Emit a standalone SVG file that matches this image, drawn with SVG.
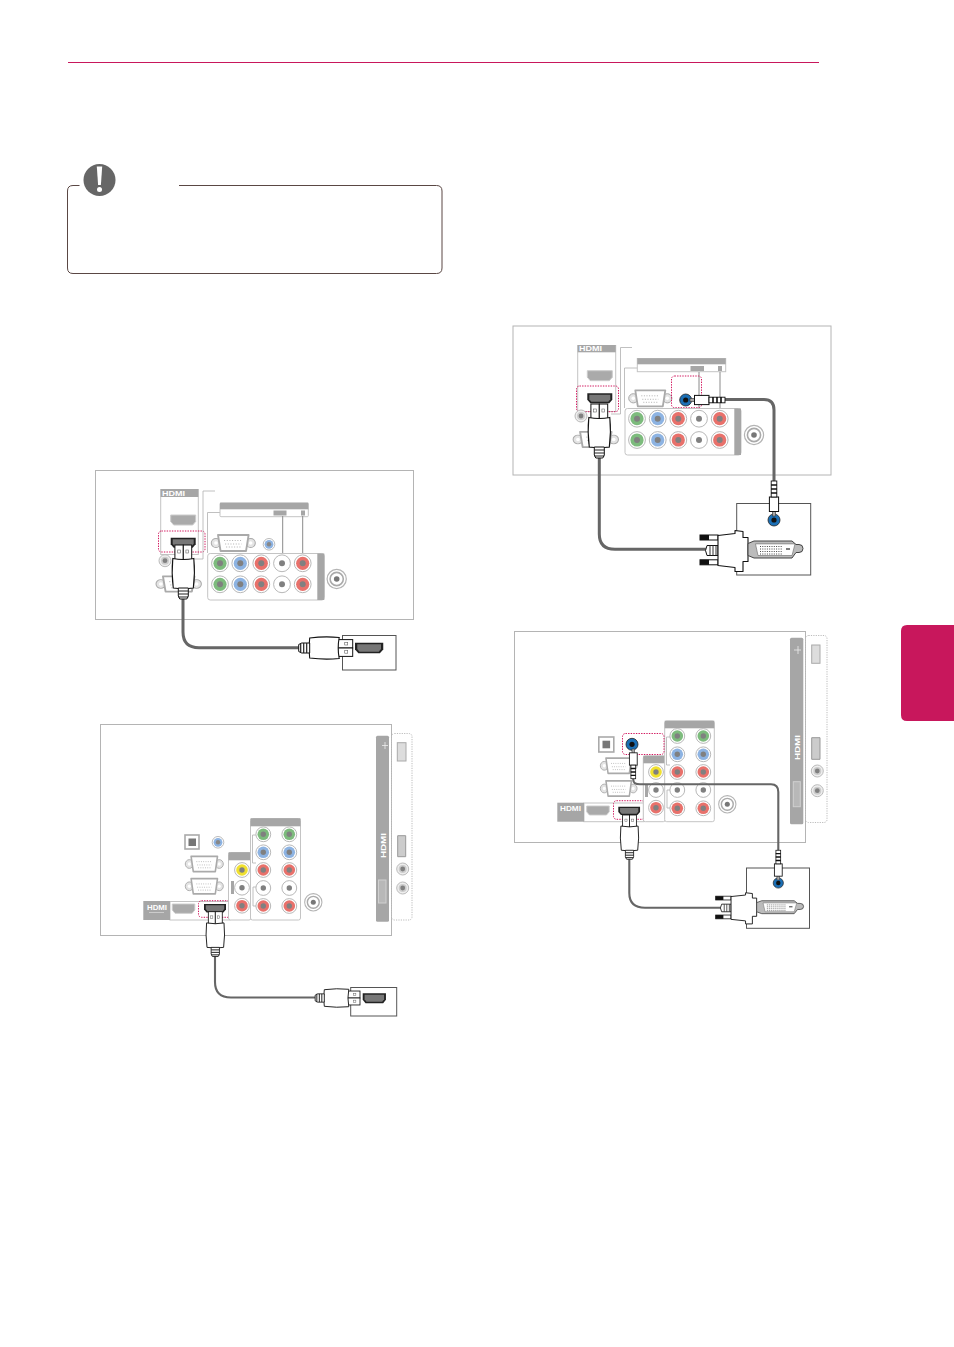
<svg xmlns="http://www.w3.org/2000/svg" xmlns:xlink="http://www.w3.org/1999/xlink" width="954" height="1347" viewBox="0 0 954 1347">
<style>
.frame{fill:#fff;stroke:#b4b4b4;stroke-width:1}
.dev{fill:#fff;stroke:#555;stroke-width:1}
.blk{fill:#fff;stroke:#c4c4c4;stroke-width:1}
.bar{fill:#a6a6a6}
.ln{fill:none;stroke:#b0b0b0;stroke-width:.8}
.ln2{fill:none;stroke:#8a8a8a;stroke-width:1}
.pink{fill:none;stroke:#d2185f;stroke-width:1;stroke-dasharray:1.4 1.2}
.dot{fill:none;stroke:#bcbcbc;stroke-width:1;stroke-dasharray:1.2 1.2}
.cable{fill:none;stroke:#666;stroke-width:3}
.thin{stroke-width:2.1}
.logo{font:bold 6.5px "Liberation Sans",sans-serif;fill:#fff}
.gr{color:#7dbb7d}.bl{color:#8db3e2}.rd{color:#e8716b}.wh{color:#fff}.ye{color:#f0e030}
</style>
<defs>
<g id="jk"><circle r="8.4" fill="#fff" stroke="#b8b8b8" stroke-width="1"/><circle r="6.6" fill="currentColor"/><circle r="3" fill="#808080"/></g>
<g id="jks"><circle r="7.4" fill="#fff" stroke="#b8b8b8" stroke-width="1"/><circle r="5.8" fill="currentColor"/><circle r="2.7" fill="#808080"/></g>
<g id="rf"><circle r="9.6" fill="#fff" stroke="#b4b4b4" stroke-width="1.2"/><circle r="6.6" fill="#fff" stroke="#aaa" stroke-width="1.6"/><circle r="2.8" fill="#777"/></g>
<g id="sj"><circle r="6" fill="#eee" stroke="#bbb"/><circle r="4" fill="#ccc"/><circle r="2.4" fill="#808080"/></g>
<g id="bj"><circle r="5.8" fill="#fff" stroke="#bbb"/><circle r="4.4" fill="#8db3e2"/><circle r="2.2" fill="#888"/></g>
<g id="dj"><circle r="6" fill="#1b6fb5" stroke="#222" stroke-width=".8"/><circle r="2.6" fill="#111"/></g>
<g id="vga"><circle cx="-17" r="4.6" fill="#e4e4e4" stroke="#aaa"/><circle cx="17" r="4.6" fill="#e4e4e4" stroke="#aaa"/><circle cx="-17" r="1.8" fill="#fff"/><circle cx="17" r="1.8" fill="#fff"/><path d="M-15,-8H15L12.5,8H-12.5Z" fill="#fff" stroke="#aaa" stroke-width="1.8" stroke-linejoin="round"/><path d="M-9,-2.5H9M-8,1H8M-7,4H7" stroke="#aaa" stroke-width=".9" stroke-dasharray="1 1.6" fill="none"/></g>
<path id="pl" d="M0,0H25V6.5L22,10H3L0,6.5Z" fill="#aaa" stroke="#ccc" stroke-width="1"/>
<g id="pd"><path d="M0,0H25V6.5L22,10H3L0,6.5Z" fill="#222"/><path d="M2,1.5H23V6L21,8.5H4L2,6Z" fill="#777"/></g>
<g id="hp">
<rect x="-8.4" y="0" width="8.4" height="15" fill="#fff" stroke="#111" stroke-width="1"/><rect x="0" y="0" width="8.4" height="15" fill="#fff" stroke="#111" stroke-width="1"/>
<rect x="-5.6" y="5" width="2.6" height="3" fill="none" stroke="#666" stroke-width=".6"/><rect x="2.6" y="5" width="2.6" height="3" fill="none" stroke="#666" stroke-width=".6"/>
<path d="M-10.5,13.5Q0,15.5 10.5,13.5Q12,28 10,43Q0,44.5 -10,43Q-12,28 -10.5,13.5Z" fill="#fff" stroke="#111" stroke-width="1.1"/>
<path d="M-5,43H5V51L3.5,54H-3.5L-5,51Z" fill="#fff" stroke="#111" stroke-width="1"/><path d="M-5,46H5M-5,49H5M-5,52H5" stroke="#222" stroke-width="1.2"/>
</g>
<g id="ap">
<rect x="-1.6" y="0" width="3.2" height="5" fill="#aaa" stroke="#333" stroke-width=".6"/>
<rect x="-4.6" y="4.5" width="9.2" height="14.5" fill="#fff" stroke="#111" stroke-width="1"/>
<rect x="-2.8" y="19" width="5.6" height="16" fill="#fff" stroke="#111" stroke-width=".9"/><path d="M-3,23H3M-3,27H3M-3,31H3" stroke="#111" stroke-width="1.6"/>
</g>
<g id="dvi">
<rect x="0" y="-14.5" width="18" height="5" fill="#fff" stroke="#111"/><rect x="0" y="-14.5" width="9" height="5" fill="#111"/>
<rect x="0" y="10.3" width="18" height="5" fill="#fff" stroke="#111"/><rect x="0" y="10.3" width="9" height="5" fill="#111"/>
<path d="M7,-4H18V6H7Q4,1 7,-4Z" fill="#fff" stroke="#111"/><path d="M10,-4V6M13,-4V6M16,-4V6" stroke="#333"/>
<path d="M18,-14L35,-16V-19L43,-18V-12H48V12H43V22L35,22V18L18,16Z" fill="#fff" stroke="#111" stroke-width="1.1" stroke-linejoin="round"/>
<path d="M48,-6L54,-8.5H92L96,-5H99A3.6,3.6 0 1 1 99,3H96L92,8.5H54L48,6Z" fill="#bbb" stroke="#444"/>
<path d="M55.5,-5.6H95L92,6H58Z" fill="#fff" stroke="#666" stroke-width=".6"/>
<path d="M60,-3H82M60,-.5H82M60,2H82M60,4.5H82" stroke="#333" stroke-width=".9" stroke-dasharray="1 1.3" fill="none"/><path d="M86,-.5H90" stroke="#222" stroke-width="1.2"/>
</g>
</defs>

<rect width="954" height="1347" fill="#fff"/>
<g id="page-header"><path d="M68,62.5H819" stroke="#c8175c" stroke-width="1" fill="none"/></g>
<g id="side-tab"><path d="M954,625H907Q901,625 901,631V715Q901,721 907,721H954Z" fill="#c8175c"/></g>

<g id="note">
<path d="M79.5,185.5H73Q67.5,185.5 67.5,191V268Q67.5,273.5 73,273.5H436.5Q442,273.5 442,268V191Q442,185.5 436.5,185.5H179" fill="none" stroke="#5a4744" stroke-width="1"/>
<circle cx="99.5" cy="180" r="16" fill="#666"/>
<path d="M96.8,166.5H102.2L100.9,185H98.1Z" fill="#fff"/><circle cx="99.5" cy="189.5" r="2.5" fill="#fff"/>
</g>

<g id="panel-a">
<rect class="frame" x="95.5" y="470.5" width="318" height="149"/>
<rect class="blk" x="160.7" y="489.5" width="37.6" height="65"/>
<rect class="bar" x="160.7" y="489" width="37.6" height="8"/><text class="logo" x="162" y="495.5" textLength="23" lengthAdjust="spacingAndGlyphs">HDMI</text>
<use xlink:href="#pl" x="170.7" y="515"/><use xlink:href="#pd" x="170.7" y="537.7"/>
<rect class="pink" x="158.5" y="531" width="46.5" height="21" rx="3"/>
<path class="ln" d="M215,491H203V559H193"/><path class="ln" d="M220,512.5H207.5V553"/>
<use xlink:href="#sj" x="165" y="560.7"/>
<rect class="blk" x="220" y="503" width="88.3" height="13.7" rx="1"/><rect class="bar" x="220" y="502.7" width="88.3" height="6.6"/>
<rect class="bar" x="273.5" y="510.5" width="13" height="5"/><rect class="bar" x="301" y="510.5" width="4" height="5"/>
<path class="ln2" d="M282.7,516V556M302.7,516V556"/>
<use xlink:href="#vga" transform="translate(233.3 543) scale(1.02 1)"/>
<use xlink:href="#bj" x="269" y="544.3"/>
<rect class="blk" x="207.7" y="553.5" width="116.6" height="46.5" rx="2.5"/><rect class="bar" x="317.3" y="553.5" width="7" height="46.5"/>
<use class="gr" xlink:href="#jk" x="220" y="563.3"/><use class="bl" xlink:href="#jk" x="240.3" y="563.3"/><use class="rd" xlink:href="#jk" x="261.3" y="563.3"/><use class="wh" xlink:href="#jk" x="282" y="563.3"/><use class="rd" xlink:href="#jk" x="302.7" y="563.3"/>
<use class="gr" xlink:href="#jk" x="220" y="584.3"/><use class="bl" xlink:href="#jk" x="240.3" y="584.3"/><use class="rd" xlink:href="#jk" x="261.3" y="584.3"/><use class="wh" xlink:href="#jk" x="282" y="584.3"/><use class="rd" xlink:href="#jk" x="302.7" y="584.3"/>
<use xlink:href="#rf" x="336.7" y="579"/>
<use xlink:href="#vga" transform="translate(178.7 584) scale(1.05 .95)"/>
<rect class="dev" x="342.5" y="635.5" width="53.5" height="34.5"/>
<use xlink:href="#pd" transform="translate(355 642.7) scale(1.13 1.06)"/>
</g>

<g id="panel-b">
<rect class="frame" x="100.5" y="724.5" width="291" height="211"/>
<rect class="bar" x="376" y="735.7" width="13" height="186" rx="1.5"/>
<path d="M382,745.5H388M385,742V749" stroke="#eee" stroke-width=".8" fill="none"/>
<rect class="dot" x="391.5" y="733.5" width="20.5" height="186.5" rx="3"/>
<rect x="397.3" y="742.7" width="8.7" height="18.3" fill="#ddd" stroke="#aaa"/>
<path d="M397.7,835.7H405.7V856.7H397.7Z" fill="#ccc" stroke="#999"/>
<use xlink:href="#sj" x="402.7" y="869"/><use xlink:href="#sj" x="402.7" y="888"/>
<rect x="378.5" y="880" width="7.5" height="23" fill="#b8b8b8" stroke="#d0d0d0"/>
<text class="logo" transform="translate(386 858) rotate(-90)" textLength="25" lengthAdjust="spacingAndGlyphs" style="font-size:8px">HDMI</text>
<rect x="185" y="835" width="14" height="14" fill="#fff" stroke="#aaa" stroke-width="1.6"/><rect x="188.5" y="838.5" width="7.5" height="7.5" fill="#777"/>
<use xlink:href="#bj" x="218" y="842.3"/>
<use xlink:href="#vga" transform="translate(204.3 864) scale(.88 .95)"/>
<use xlink:href="#vga" transform="translate(204.3 886.3) scale(.88 .95)"/>
<rect class="blk" x="170" y="901.5" width="60" height="18.5"/><rect class="bar" x="143.3" y="901" width="26.7" height="19"/>
<text class="logo" x="147" y="910" textLength="20" lengthAdjust="spacingAndGlyphs">HDMI</text><path d="M149,912.5H164" stroke="#ddd" stroke-width=".7"/>
<use xlink:href="#pl" transform="translate(172.3 904) scale(.9 .93)"/>
<use xlink:href="#pd" transform="translate(204 904) scale(.88 .85)"/>
<rect class="pink" x="198.5" y="900.7" width="33" height="16.6" rx="3"/>
<rect class="blk" x="228.5" y="852.5" width="22.5" height="67.5" rx="2"/><rect class="bar" x="228.5" y="852.3" width="22.5" height="8"/>
<rect class="blk" x="250.5" y="818.5" width="50" height="101.5" rx="2"/><rect class="bar" x="250.5" y="818.3" width="50" height="8"/>
<rect class="bar" x="231" y="881" width="3" height="13"/>
<path class="ln" d="M256,835H252.5V863H256M256,887H253V906H256"/>
<use class="ye" xlink:href="#jks" x="242" y="870"/><use class="wh" xlink:href="#jks" x="242" y="887.7"/><use class="rd" xlink:href="#jks" x="242" y="905.7"/>
<use class="gr" xlink:href="#jks" x="263.3" y="834.3"/><use class="gr" xlink:href="#jks" x="289.3" y="834.3"/>
<use class="bl" xlink:href="#jks" x="263.3" y="852.3"/><use class="bl" xlink:href="#jks" x="289.3" y="852.3"/>
<use class="rd" xlink:href="#jks" x="263.3" y="870"/><use class="rd" xlink:href="#jks" x="289.3" y="870"/>
<use class="wh" xlink:href="#jks" x="263.3" y="888"/><use class="wh" xlink:href="#jks" x="289.3" y="888"/>
<use class="rd" xlink:href="#jks" x="263.3" y="906"/><use class="rd" xlink:href="#jks" x="289.3" y="906"/>
<use xlink:href="#rf" transform="translate(313.3 902.3) scale(.9)"/>
<rect class="dev" x="350.7" y="987.5" width="46" height="28.5"/>
<use xlink:href="#pd" transform="translate(362.7 993.3) scale(.93 1)"/>
</g>

<g id="panel-c">
<rect class="frame" x="513" y="326" width="318" height="149"/>
<rect class="blk" x="577.7" y="345.5" width="38" height="66"/>
<rect class="bar" x="577.7" y="345" width="38" height="7.3"/><text class="logo" x="579" y="351" textLength="23" lengthAdjust="spacingAndGlyphs">HDMI</text>
<use xlink:href="#pl" x="587.3" y="370.7"/><use xlink:href="#pd" x="587.3" y="393.3"/>
<rect class="pink" x="576.5" y="386" width="42" height="25.7" rx="3"/>
<path class="ln" d="M632,347.5H620.5V414H611"/><path class="ln" d="M637.5,368H624.5V408"/>
<use xlink:href="#sj" x="581" y="416"/>
<rect class="blk" x="637.3" y="358.5" width="88.4" height="13.2"/><rect class="bar" x="637.3" y="358.3" width="88.4" height="6"/>
<rect class="bar" x="690.5" y="366" width="13.5" height="5"/><rect class="bar" x="718" y="366" width="4" height="5"/>
<path class="ln2" d="M699,372V410M720,372V410"/>
<use xlink:href="#vga" transform="translate(650.3 398.3)"/>
<rect class="pink" x="671.5" y="376" width="30" height="31.7" rx="3"/>
<rect class="blk" x="625" y="408.5" width="116" height="46.5" rx="2.5"/><rect class="bar" x="734.3" y="408.5" width="6.7" height="46.5"/>
<use class="gr" xlink:href="#jk" x="637" y="418.7"/><use class="bl" xlink:href="#jk" x="657.7" y="418.7"/><use class="rd" xlink:href="#jk" x="678.3" y="418.7"/><use class="wh" xlink:href="#jk" x="699" y="418.7"/><use class="rd" xlink:href="#jk" x="719.7" y="418.7"/>
<use class="gr" xlink:href="#jk" x="637" y="440"/><use class="bl" xlink:href="#jk" x="657.7" y="440"/><use class="rd" xlink:href="#jk" x="678.3" y="440"/><use class="wh" xlink:href="#jk" x="699" y="440"/><use class="rd" xlink:href="#jk" x="719.7" y="440"/>
<use xlink:href="#rf" x="754" y="435"/>
<use xlink:href="#vga" transform="translate(595.8 439.5) scale(1.05 .95)"/>
<use xlink:href="#dj" x="685.7" y="400"/>
<rect class="dev" x="736.7" y="503.5" width="74" height="71.5"/>
<use xlink:href="#dj" x="774" y="520"/>
</g>

<g id="panel-d">
<rect class="frame" x="514.5" y="631.5" width="291" height="211"/>
<rect class="bar" x="790" y="637.7" width="13.3" height="186.6" rx="1.5"/>
<path d="M794,650H801M798,646V654" stroke="#eee" stroke-width=".8" fill="none"/>
<rect class="dot" x="805.5" y="635.5" width="21.5" height="187" rx="3"/>
<rect x="811.7" y="645" width="8.3" height="18.3" fill="#ddd" stroke="#aaa"/>
<path d="M811.7,737.7H820V759.3H811.7Z" fill="#ccc" stroke="#999"/>
<use xlink:href="#sj" x="817.3" y="771"/><use xlink:href="#sj" x="817.3" y="790.7"/>
<rect x="793.3" y="781.7" width="7" height="25" fill="#b8b8b8" stroke="#d0d0d0"/>
<text class="logo" transform="translate(800 760) rotate(-90)" textLength="25" lengthAdjust="spacingAndGlyphs" style="font-size:8px">HDMI</text>
<rect x="598.8" y="737" width="15" height="15" fill="#fff" stroke="#aaa" stroke-width="1.6"/><rect x="602.5" y="740.7" width="7.6" height="7.6" fill="#777"/>
<use xlink:href="#vga" transform="translate(618.7 765.8) scale(.85 .95)"/>
<use xlink:href="#vga" transform="translate(618.7 788.5) scale(.85 .95)"/>
<rect class="blk" x="584" y="803" width="60" height="18.7"/><rect class="bar" x="557.3" y="802.7" width="26.7" height="19"/>
<text class="logo" x="560" y="811" textLength="21" lengthAdjust="spacingAndGlyphs">HDMI</text>
<use xlink:href="#pl" transform="translate(586.7 806) scale(.9 .9)"/>
<use xlink:href="#pd" transform="translate(618.3 806.7) scale(.87 .83)"/>
<rect class="pink" x="613.5" y="800.7" width="31" height="18.6" rx="3"/>
<rect class="blk" x="643.3" y="756" width="22" height="65.7" rx="2"/><rect class="bar" x="643.3" y="755.7" width="22" height="7.6"/>
<rect class="blk" x="664.7" y="721" width="49.6" height="100.7" rx="2"/><rect class="bar" x="664.7" y="720.7" width="49.6" height="7.6"/>
<rect class="bar" x="645" y="784" width="3" height="13"/>
<path class="ln" d="M670,737H666.5V765H670M670,790H667V808H670"/>
<use class="ye" xlink:href="#jks" x="656" y="772"/><use class="wh" xlink:href="#jks" x="656" y="790"/><use class="rd" xlink:href="#jks" x="656" y="807.7"/>
<use class="gr" xlink:href="#jks" x="677.3" y="736"/><use class="gr" xlink:href="#jks" x="703.3" y="736"/>
<use class="bl" xlink:href="#jks" x="677.3" y="754.3"/><use class="bl" xlink:href="#jks" x="703.3" y="754.3"/>
<use class="rd" xlink:href="#jks" x="677.3" y="772"/><use class="rd" xlink:href="#jks" x="703.3" y="772"/>
<use class="wh" xlink:href="#jks" x="677.3" y="790"/><use class="wh" xlink:href="#jks" x="703.3" y="790"/>
<use class="rd" xlink:href="#jks" x="677.3" y="808.3"/><use class="rd" xlink:href="#jks" x="703.3" y="808.3"/>
<use xlink:href="#rf" transform="translate(727.3 804.3) scale(.9)"/>
<rect class="pink" x="622.5" y="733.5" width="41.5" height="21" rx="3"/>
<use xlink:href="#dj" x="632" y="744.3"/>
<rect class="dev" x="746.5" y="868" width="63" height="60.3"/>
<use xlink:href="#dj" transform="translate(778.3 883) scale(.85)"/>
</g>

<g id="connectors">
<path class="cable" d="M183,599V632Q183,647.7 199,647.7H300"/>
<path class="cable thin" d="M215,956V982Q215,997.5 231,997.5H315"/>
<path class="cable" d="M599.3,457V534Q599.3,549.3 615,549.3H707"/>
<path class="cable" d="M724,399.5H764Q774,399.5 774,410V482"/>
<path class="cable thin" d="M629.3,859V893Q629.3,907.7 645,907.7H722"/>
<path class="cable thin" d="M633.3,778V780Q633.3,784.3 640,784.3H771Q778.3,784.3 778.3,792V851"/>
</g>

<g id="plugs">
<use xlink:href="#hp" transform="translate(183.3 545)"/>
<use xlink:href="#hp" transform="translate(352.7 648) rotate(90)"/>
<use xlink:href="#hp" transform="translate(215.3 911.7) scale(.83)"/>
<use xlink:href="#hp" transform="translate(360 998) rotate(90) scale(.83)"/>
<use xlink:href="#hp" transform="translate(599.3 404)"/>
<use xlink:href="#dvi" transform="translate(700 549.5)"/>
<use xlink:href="#hp" transform="translate(629.5 815) scale(.82)"/>
<use xlink:href="#dvi" transform="translate(715.7 907.2) scale(.853 .76)"/>
<use xlink:href="#ap" transform="translate(690 400) rotate(-90)"/>
<use xlink:href="#ap" transform="translate(774 516) rotate(180)"/>
<use xlink:href="#ap" transform="translate(633.3 749) scale(.85)"/>
<use xlink:href="#ap" transform="translate(778.3 880) rotate(180) scale(.85)"/>
</g>
</svg>
